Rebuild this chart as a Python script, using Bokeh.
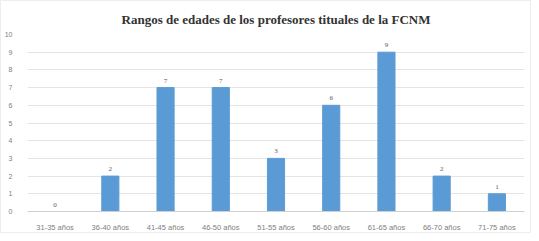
from bokeh.plotting import figure
from bokeh.models import ColumnDataSource, LabelSet, FixedTicker, Range1d
from bokeh.embed import file_html
from bokeh.resources import INLINE

categories = ["31-35 años", "36-40 años", "41-45 años", "46-50 años", "51-55 años",
              "56-60 años", "61-65 años", "66-70 años", "71-75 años"]
values = [0, 2, 7, 7, 3, 6, 9, 2, 1]
y_ticks = [0, 1, 2, 3, 4, 5, 6, 7, 8, 9, 10]
title = "Rangos de edades de los profesores tituales de la FCNM"

src = ColumnDataSource(dict(cat=categories, val=values, lab=[str(v) for v in values]))

p = figure(x_range=categories, y_range=Range1d(0, 10), width=531, height=233,
           output_backend="svg", toolbar_location=None, title=title,
           min_border_left=26, min_border_right=8, min_border_top=14, min_border_bottom=4)
p.title.align = "center"
p.title.text_font = "Liberation Serif"
p.title.text_font_style = "bold"
p.title.text_font_size = "13px"
p.title.text_color = "#333333"
p.title.standoff = 16

p.vbar(x="cat", top="val", width=0.31, source=src, color="#5b9bd5")

labels = LabelSet(x="cat", y="val", text="lab", source=src, y_offset=5,
                  text_align="center", text_font_size="7px", text_color="#595959",
                  text_font="Liberation Sans")
p.add_layout(labels)

p.yaxis.ticker = FixedTicker(ticks=y_ticks)
p.yaxis.axis_line_color = None
p.yaxis.major_tick_line_color = None
p.yaxis.minor_tick_line_color = None
p.yaxis.major_label_text_font_size = "7px"
p.yaxis.major_label_text_color = "#808080"
p.yaxis.major_label_standoff = 9

p.xaxis.axis_line_color = "#d0d0d0"
p.xaxis.major_tick_line_color = None
p.xaxis.minor_tick_line_color = None
p.xaxis.major_label_text_font_size = "7.5px"
p.xaxis.major_label_text_color = "#808080"
p.xaxis.major_label_standoff = 5

p.xgrid.grid_line_color = None
p.ygrid.grid_line_color = "#e4e4e4"
p.outline_line_color = None
p.x_range.range_padding = 0
p.styles = {"border": "1px solid #eeeeee"}

open("out.html", "w").write(file_html(p, INLINE))
